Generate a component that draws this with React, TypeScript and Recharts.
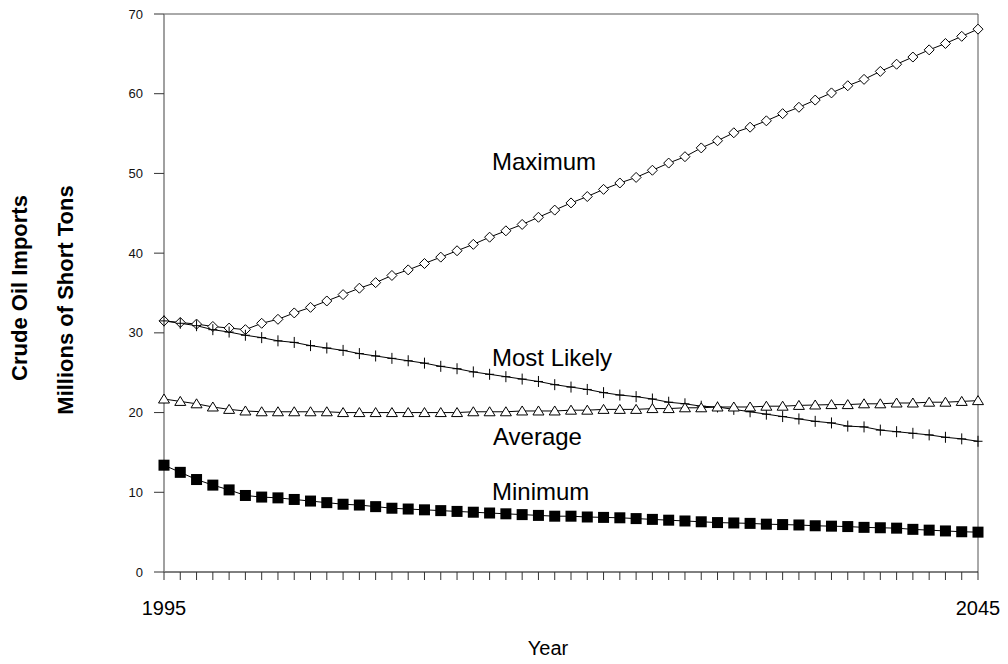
import React from "react";
import { LineChart, Line, XAxis, YAxis, ReferenceLine } from "recharts";

const years = [
  1995, 1996, 1997, 1998, 1999, 2000, 2001, 2002, 2003, 2004, 2005, 2006, 2007,
  2008, 2009, 2010, 2011, 2012, 2013, 2014, 2015, 2016, 2017, 2018, 2019, 2020,
  2021, 2022, 2023, 2024, 2025, 2026, 2027, 2028, 2029, 2030, 2031, 2032, 2033,
  2034, 2035, 2036, 2037, 2038, 2039, 2040, 2041, 2042, 2043, 2044, 2045,
];

const maximum = [
  31.5, 31.3, 31.1, 30.8, 30.6, 30.4, 31.2, 31.7, 32.5, 33.2, 34.0, 34.8, 35.6,
  36.3, 37.2, 37.9, 38.7, 39.5, 40.3, 41.1, 42.0, 42.8, 43.6, 44.5, 45.4, 46.3,
  47.1, 48.0, 48.8, 49.5, 50.4, 51.3, 52.1, 53.2, 54.1, 55.1, 55.8, 56.6, 57.5,
  58.3, 59.2, 60.1, 61.0, 61.8, 62.8, 63.7, 64.6, 65.5, 66.3, 67.2, 68.1,
];

const mostLikely = [
  31.5, 31.2, 30.9, 30.4, 30.1, 29.7, 29.4, 29.0, 28.8, 28.4, 28.1, 27.8, 27.4,
  27.1, 26.8, 26.5, 26.2, 25.8, 25.5, 25.1, 24.8, 24.5, 24.2, 23.9, 23.5, 23.2,
  22.9, 22.5, 22.2, 22.0, 21.7, 21.3, 21.1, 20.8, 20.7, 20.4, 20.1, 19.8, 19.5,
  19.2, 18.9, 18.7, 18.3, 18.2, 17.8, 17.6, 17.4, 17.2, 16.9, 16.7, 16.4,
];

const average = [
  21.7, 21.4, 21.1, 20.7, 20.4, 20.2, 20.1, 20.1, 20.1, 20.1, 20.1, 20.0, 20.0,
  20.0, 20.0, 20.0, 20.0, 20.0, 20.0, 20.1, 20.1, 20.1, 20.2, 20.2, 20.2, 20.3,
  20.3, 20.4, 20.4, 20.4, 20.5, 20.5, 20.6, 20.6, 20.7, 20.7, 20.7, 20.8, 20.8,
  20.9, 20.95, 21.0, 21.0, 21.1, 21.1, 21.2, 21.2, 21.3, 21.3, 21.4, 21.5,
];

const minimum = [
  13.4, 12.5, 11.6, 10.9, 10.3, 9.6, 9.4, 9.3, 9.1, 8.9, 8.7, 8.5, 8.4, 8.2,
  8.0, 7.9, 7.8, 7.7, 7.6, 7.5, 7.4, 7.3, 7.2, 7.1, 7.0, 7.0, 6.9, 6.85, 6.8,
  6.7, 6.6, 6.5, 6.4, 6.3, 6.2, 6.15, 6.1, 6.0, 5.95, 5.9, 5.8, 5.75, 5.7,
  5.6, 5.55, 5.5, 5.35, 5.25, 5.15, 5.05, 5.0,
];

const yTicks = [0, 10, 20, 30, 40, 50, 60, 70];
const labeledYears = [1995, 2045];

const data = years.map((year, i) => ({
  year,
  maximum: maximum[i],
  mostLikely: mostLikely[i],
  average: average[i],
  minimum: minimum[i],
}));

const FONT = "'Liberation Sans', Arial, Helvetica, sans-serif";

// marker shapes
const Diamond = (p: any) => {
  const { cx, cy, index } = p;
  return (
    <polygon
      key={"d" + index}
      points={`${cx},${cy - 5} ${cx + 5},${cy} ${cx},${cy + 5} ${cx - 5},${cy}`}
      fill="#fff"
      stroke="#000"
      strokeWidth={1}
    />
  );
};

const Plus = (p: any) => {
  const { cx, cy, index } = p;
  return (
    <path
      key={"p" + index}
      d={`M${cx - 4.5},${cy}H${cx + 4.5}M${cx},${cy - 5.5}V${cy + 5.5}`}
      stroke="#000"
      strokeWidth={1}
      fill="none"
    />
  );
};

const Triangle = (p: any) => {
  const { cx, cy, index } = p;
  return (
    <polygon
      key={"t" + index}
      points={`${cx},${cy - 5} ${cx + 5.5},${cy + 4} ${cx - 5.5},${cy + 4}`}
      fill="#fff"
      stroke="#000"
      strokeWidth={1}
    />
  );
};

const Square = (p: any) => {
  const { cx, cy, index } = p;
  return <rect key={"s" + index} x={cx - 5.5} y={cy - 5.5} width={11} height={11} fill="#000" />;
};

const seriesLabels = [
  { text: "Maximum", left: 492, top: 150 },
  { text: "Most Likely", left: 492, top: 346 },
  { text: "Average", left: 493, top: 425 },
  { text: "Minimum", left: 492, top: 480 },
];

export default function App() {
  return (
    <div style={{ position: "absolute", left: 0, top: 0, width: 1008, height: 664, background: "#fff", fontFamily: FONT }}>
      <LineChart
        width={1008}
        height={664}
        data={data}
        margin={{ top: 14, right: 30, bottom: 42, left: 104 }}
      >
        <XAxis
          dataKey="year"
          type="number"
          domain={[1995, 2045]}
          ticks={years}
          interval={0}
          height={50}
          tickSize={8}
          tickMargin={21}
          axisLine={{ stroke: "#000" }}
          tickLine={{ stroke: "#333" }}
          tick={{ fontSize: 20, fill: "#000", fontFamily: FONT }}
          tickFormatter={(v: number) => (labeledYears.includes(v) ? String(v) : "")}
        />
        <YAxis
          type="number"
          domain={[0, 70]}
          ticks={yTicks}
          width={60}
          tickSize={10}
          tickMargin={11}
          axisLine={{ stroke: "#808080", strokeWidth: 1.5 }}
          tickLine={{ stroke: "#333" }}
          tick={{ fontSize: 13, fill: "#111", fontFamily: FONT }}
        />
        <ReferenceLine y={70} stroke="#555" />
        <ReferenceLine x={2045} stroke="#555" />
        <Line dataKey="maximum" stroke="#000" strokeWidth={1} dot={Diamond} isAnimationActive={false} type="linear" />
        <Line dataKey="mostLikely" stroke="#000" strokeWidth={1} dot={Plus} isAnimationActive={false} type="linear" />
        <Line dataKey="average" stroke="#000" strokeWidth={1} dot={Triangle} isAnimationActive={false} type="linear" />
        <Line dataKey="minimum" stroke="#000" strokeWidth={1} dot={Square} isAnimationActive={false} type="linear" />
      </LineChart>

      {seriesLabels.map((l) => (
        <div
          key={l.text}
          style={{ position: "absolute", left: l.left, top: l.top, fontSize: 24, lineHeight: "24px", whiteSpace: "nowrap", color: "#000" }}
        >
          {l.text}
        </div>
      ))}

      <div style={{ position: "absolute", left: 548, top: 638, transform: "translateX(-50%)", fontSize: 20, lineHeight: "20px", color: "#000" }}>
        Year
      </div>
      <div
        style={{ position: "absolute", left: 20, top: 288, transform: "translate(-50%, -50%) rotate(-90deg)", fontSize: 22, lineHeight: "22px", fontWeight: "bold", whiteSpace: "nowrap" }}
      >
        Crude Oil Imports
      </div>
      <div
        style={{ position: "absolute", left: 66, top: 300, transform: "translate(-50%, -50%) rotate(-90deg)", fontSize: 22, lineHeight: "22px", fontWeight: "bold", whiteSpace: "nowrap" }}
      >
        Millions of Short Tons
      </div>
    </div>
  );
}
